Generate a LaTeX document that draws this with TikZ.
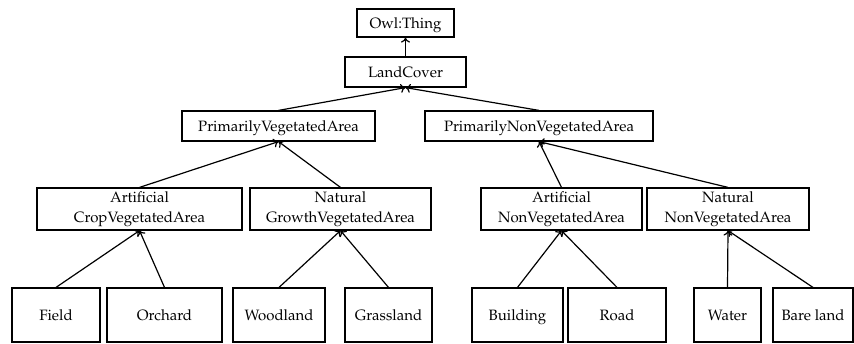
\documentclass[tikz,border=0pt]{standalone}
\usepackage[T1]{fontenc}
\usepackage{mathpazo}
\usepackage{tikz}
\usetikzlibrary{positioning, arrows.meta}
\tikzstyle{Arrow} = [
    line width = 1.2pt,
    -{To[length=5pt, width=9pt, line width=1.2pt]}
]

\begin{document}
\begin{tikzpicture}[
x = 1pt, y = -1pt,
class/.style={
    draw,
    line width = 1.2pt,
    rectangle,
    align = center,
    inner sep = 0pt,
    font = \fontsize{15}{20}\selectfont
    },
single/.style={
    class,
    text height = 12pt,
    text depth = 2pt
    }
]
\useasboundingbox (0,0) rectangle (854,343);

% top levels
\node [single, minimum width=97pt, minimum height=28pt] (thing) at (405.5,23) {Owl:Thing};
\node [single, minimum width=121pt, minimum height=30pt] (land) at (405.5,72) {LandCover};

\node [single, minimum width=193pt, minimum height=30pt] (veg) at (278.5,126) {PrimarilyVegetatedArea};
\node [single, minimum width=228pt, minimum height=30pt] (nonveg) at (539,126) {PrimarilyNonVegetatedArea};

% third level
\node [class, minimum width=205pt, minimum height=42pt] (crop) at (139.5,209) {Artificial\\CropVegetatedArea};
\node [class, minimum width=181pt, minimum height=42pt] (growth) at (340.5,209) {Natural\\GrowthVegetatedArea};
\node [class, minimum width=161pt, minimum height=42pt] (artnon) at (561.5,209) {Artificial\\NonVegetatedArea};
\node [class, minimum width=162pt, minimum height=42pt] (natnon) at (728,209) {Natural\\NonVegetatedArea};

% leaves
\node [single, minimum width=88pt, minimum height=54pt] (field) at (56,315) {Field};
\node [single, minimum width=115pt, minimum height=54pt] (orchard) at (164.5,315) {Orchard};
\node [single, minimum width=92pt, minimum height=54pt] (wood) at (279,315) {Woodland};
\node [single, minimum width=87pt, minimum height=54pt] (grass) at (388.5,315) {Grassland};
\node [single, minimum width=91pt, minimum height=54pt] (build) at (517.5,315) {Building};
\node [single, minimum width=98pt, minimum height=54pt] (road) at (617,315) {Road};
\node [single, minimum width=67pt, minimum height=54pt] (water) at (727.5,315) {Water};
\node [single, minimum width=80pt, minimum height=54pt] (bare) at (813,315) {Bare land};

\draw[Arrow] (land.north) -- (thing.south);
\draw[Arrow] (veg.north) -- (land.south);
\draw[Arrow] (nonveg.north) -- (land.south);

\draw[Arrow] (crop.north) -- (veg.south);
\draw[Arrow] (growth.north) -- (veg.south);
\draw[Arrow] (artnon.north) -- (nonveg.south);
\draw[Arrow] (natnon.north) -- (nonveg.south);

\draw[Arrow] (field.north) -- (crop.south);
\draw[Arrow] (orchard.north) -- (crop.south);
\draw[Arrow] (wood.north) -- (growth.south);
\draw[Arrow] (grass.north) -- (growth.south);
\draw[Arrow] (build.north) -- (artnon.south);
\draw[Arrow] (road.north) -- (artnon.south);
\draw[Arrow] (water.north) -- (natnon.south);
\draw[Arrow] (bare.north) -- (natnon.south);

\end{tikzpicture}
\end{document}
